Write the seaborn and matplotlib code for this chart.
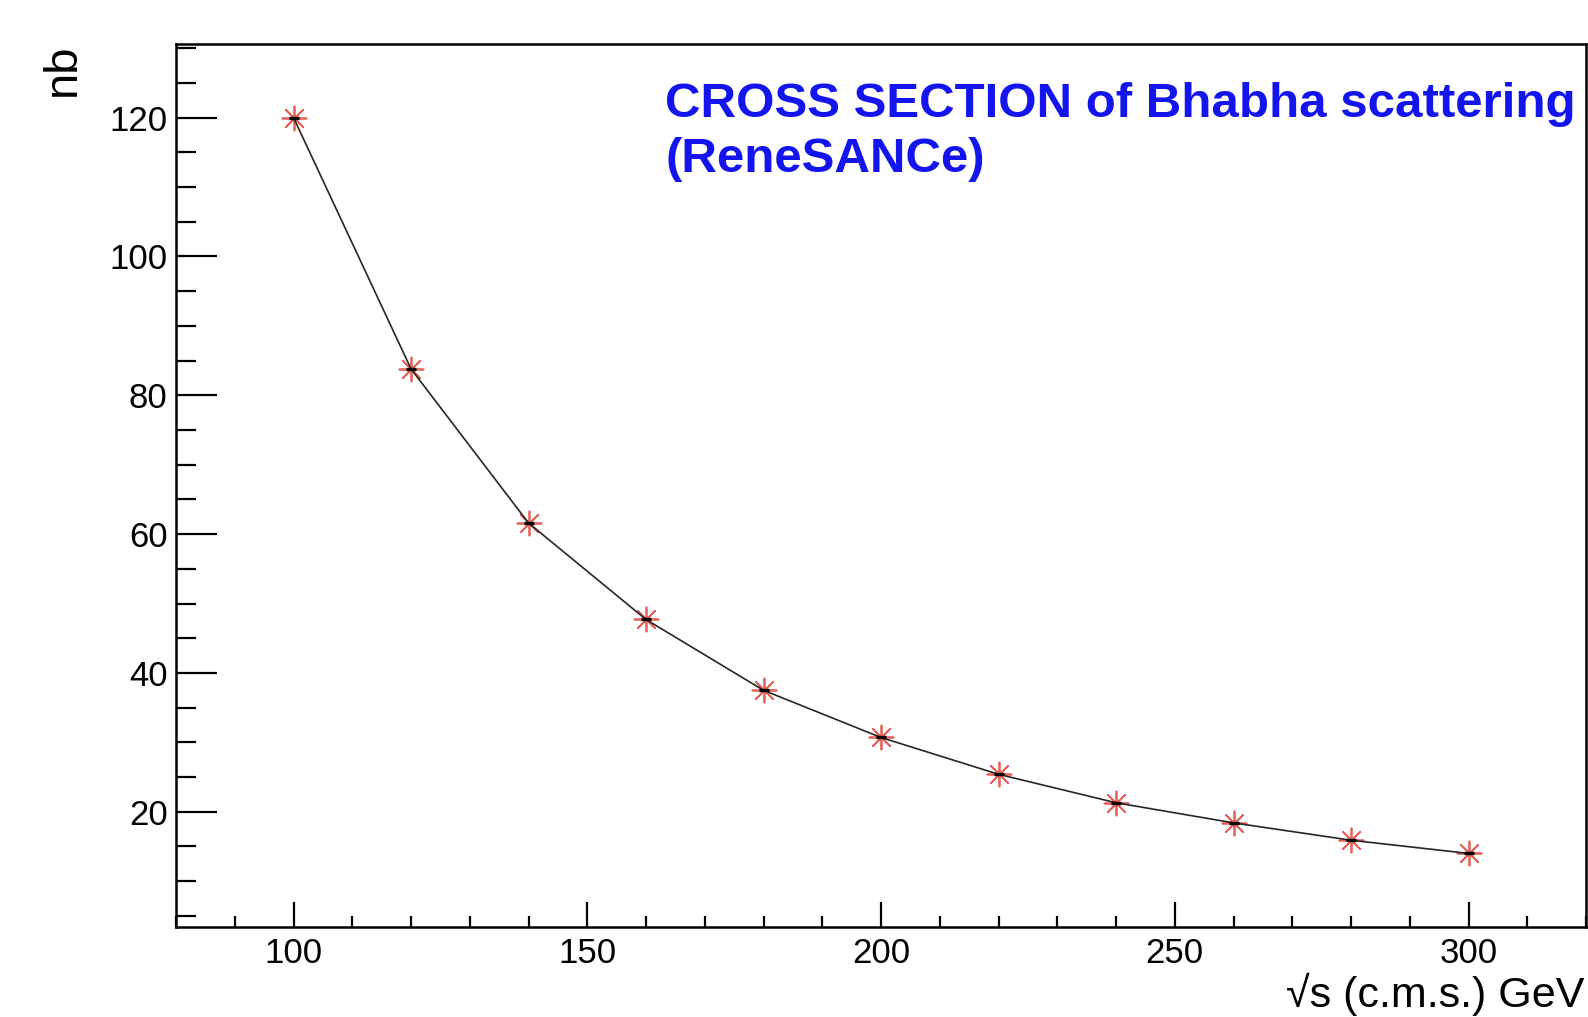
import matplotlib
matplotlib.use('Agg')
import matplotlib.pyplot as plt
import seaborn as sns
import pandas as pd
from matplotlib.ticker import MultipleLocator, FixedLocator

# ---- data ----
energy_gev = [100, 120, 140, 160, 180, 200, 220, 240, 260, 280, 300]
sigma_nb = [120.0, 83.8, 61.6, 47.7, 37.5, 30.7, 25.4, 21.3, 18.4, 15.9, 14.0]
x_major_ticks = [100, 150, 200, 250, 300]
y_major_ticks = [20, 40, 60, 80, 100, 120]
title_lines = ["CROSS SECTION of Bhabha scattering", "(ReneSANCe)"]
x_title = "\u221as (c.m.s.) GeV"
y_title = "nb"

sns.set_style('ticks')
plt.rcParams['font.family'] = ['Liberation Sans', 'DejaVu Sans']

W, H = 1588, 1017
fig = plt.figure(figsize=(W / 100, H / 100), dpi=100)
left, right, top, bottom = 176, 1586, 44, 927
ax = fig.add_axes([left / W, 1 - bottom / H, (right - left) / W, (bottom - top) / H])

df = pd.DataFrame({'sqrt_s': energy_gev, 'sigma': sigma_nb})

sns.scatterplot(data=df, x='sqrt_s', y='sigma', marker=(8, 2, 0), s=300,
                color='#e8625a', linewidth=1.3, ax=ax, zorder=3, legend=False)
sns.lineplot(data=df, x='sqrt_s', y='sigma', color='#262626', linewidth=1.2,
             ax=ax, zorder=4, legend=False)
sns.scatterplot(data=df, x='sqrt_s', y='sigma', marker='_', s=60,
                color='black', linewidth=2.4, ax=ax, zorder=5, legend=False)

ax.set_xlim(80, 320)
ax.set_ylim(3.4, 130.6)
ax.set_xlabel('')
ax.set_ylabel('')

ax.xaxis.set_major_locator(FixedLocator(x_major_ticks))
ax.yaxis.set_major_locator(FixedLocator(y_major_ticks))
ax.xaxis.set_minor_locator(MultipleLocator(10))
ax.yaxis.set_minor_locator(MultipleLocator(5))

for s in ax.spines.values():
    s.set_linewidth(1.8)
    s.set_color('black')

ax.tick_params(axis='y', which='major', direction='in', length=29.5, width=1.6,
               labelsize=25, pad=6, left=True, right=False, color='black',
               labelcolor='black')
ax.tick_params(axis='y', which='minor', direction='in', length=14.5, width=1.6,
               left=True, right=False, color='black')
ax.tick_params(axis='x', which='major', direction='in', length=18, width=1.6,
               labelsize=25, pad=7, bottom=True, top=False, color='black',
               labelcolor='black')
ax.tick_params(axis='x', which='minor', direction='in', length=8, width=1.6,
               bottom=True, top=False, color='black')

# axis titles
fig.text(1584 / W, 1 - 1007 / H, x_title, ha='right', va='baseline',
         fontsize=31, color='black')
fig.text(63 / W, 1 - 43 / H, y_title, rotation=90, ha='center', va='top',
         fontsize=34, color='black')

# title
fig.text(665 / W, 1 - 117 / H, title_lines[0], ha='left', va='baseline',
         fontsize=35.5, fontweight='bold', color='#1414ee')
fig.text(665 / W, 1 - 172 / H, title_lines[1], ha='left', va='baseline',
         fontsize=35.5, fontweight='bold', color='#1414ee')

fig.savefig('out.png', dpi=100, facecolor='white')
